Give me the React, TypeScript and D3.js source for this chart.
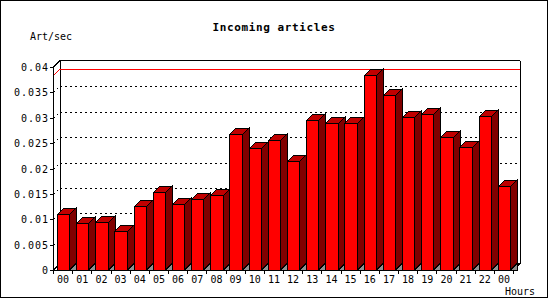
import React from "react";
import * as d3 from "d3";

const hours = ["00","01","02","03","04","05","06","07","08","09","10","11","12","13","14","15","16","17","18","19","20","21","22","00"];
const artPerSec = [0.0110,0.0092,0.0094,0.0077,0.01255,0.0153,0.0131,0.0139,0.0148,0.0267,0.0240,0.0256,0.0215,0.0296,0.0289,0.0289,0.0384,0.0345,0.0301,0.0307,0.0263,0.0242,0.0303,0.0166];
const yTicks = [0,0.005,0.01,0.015,0.02,0.025,0.03,0.035,0.04];
const yTickLabels = ["0","0.005","0.01","0.015","0.02","0.025","0.03","0.035","0.04"];

const W = 550, H = 300;
const X0 = 53.5, X1 = 513.5, Y0 = 270, Y1 = 67;
const DX = 6.5, DY = 6.5;
const FONT = "'DejaVu Sans Mono', monospace";

export default function App() {
  const x = d3.scaleBand<number>().domain(d3.range(hours.length)).range([X0, X1]).padding(0);
  const y = d3.scaleLinear().domain([0, 0.04]).range([Y0, Y1]);
  const bw = x.bandwidth() * 0.65;
  const maxV = d3.max(artPerSec) as number;
  const ym = Math.round(y(maxV)) + 0.5;
  const pts = (a: number[][]) => a.map((p) => p.join(",")).join(" ");
  const backL = X0 + DX, backR = X1 + DX, backT = Y1 - DY, backB = Y0 - DY;

  return (
    <svg width={W} height={H} style={{ display: "block", position: "absolute", left: 0, top: 0 }} shapeRendering="crispEdges">
      <rect x={0} y={0} width={W} height={H} fill="#ffffff" />
      <rect x={0.5} y={0.5} width={547} height={297} fill="none" stroke="#000" />
      <text x={274} y={31} textAnchor="middle" fontFamily={FONT} fontWeight="bold" fontSize={11} letterSpacing={0.6}>Incoming articles</text>
      <text x={30} y={40} fontFamily={FONT} fontSize={10}>Art/sec</text>
      <text x={505} y={295} fontFamily={FONT} fontSize={10}>Hours</text>

      {/* back plane frame */}
      <line x1={backL} y1={backT} x2={backR} y2={backT} stroke="#000" />
      <line x1={backL} y1={backT} x2={backL} y2={backB} stroke="#000" />
      <line x1={backR} y1={backT} x2={backR} y2={backB} stroke="#000" />
      <line x1={backL} y1={backB} x2={backR} y2={backB} stroke="#000" />
      <line x1={X0} y1={Y1} x2={backL} y2={backT} stroke="#000" />
      <line x1={X0} y1={Y0} x2={backL} y2={backB} stroke="#000" />
      <line x1={X1} y1={Y0} x2={backR} y2={backB} stroke="#000" />

      {/* grid */}
      {yTicks.slice(1, -1).map((t, i) => {
        const yy = Math.round(y(t)) + 0.5;
        return (
          <g key={i}>
            <line x1={X0} y1={yy} x2={backL} y2={yy - DY} stroke="#000" strokeDasharray="2,3" />
            <line x1={backL} y1={yy - DY} x2={backR} y2={yy - DY} stroke="#000" strokeDasharray="2,3" />
          </g>
        );
      })}

      {/* max line */}
      <line x1={X0} y1={ym} x2={backL} y2={ym - DY} stroke="#ff0000" />
      <line x1={backL} y1={ym - DY} x2={backR} y2={ym - DY} stroke="#ff0000" />

      {/* bars */}
      {artPerSec.map((v, i) => {
        const c = (x(i) as number) + x.bandwidth() / 2;
        const xl = Math.round(c - bw / 2) + 0.5;
        const xr = Math.round(c + bw / 2) + 0.5;
        const yt = Math.round(y(v)) + 0.5;
        const yb = Y0;
        return (
          <g key={i} stroke="#000" strokeWidth={1}>
            <polygon points={pts([[xr, yb], [xr + DX, yb - DY], [xr + DX, yb]])} fill="#909090" />
            <polygon points={pts([[xr, yb], [xr, yt], [xr + DX, yt - DY], [xr + DX, yb - DY]])} fill="#800000" />
            <polygon points={pts([[xl, yt], [xl + DX, yt - DY], [xr + DX, yt - DY], [xr, yt]])} fill="#c00000" />
            <rect x={xl} y={yt} width={xr - xl} height={yb - yt} fill="#ff0000" />
          </g>
        );
      })}

      {/* axes */}
      <line x1={X0} y1={Y0} x2={X0} y2={Y1} stroke="#000" />
      <line x1={X0} y1={Y0} x2={X1} y2={Y0} stroke="#000" />
      {yTicks.map((t, i) => {
        const yy = Math.round(y(t)) + 0.5;
        return (
          <g key={i}>
            <line x1={X0 - 4} y1={yy} x2={X0} y2={yy} stroke="#000" />
            <text x={49} y={yy + 3.5} textAnchor="end" fontFamily={FONT} fontSize={10} letterSpacing={1}>{yTickLabels[i]}</text>
          </g>
        );
      })}
      {d3.range(hours.length + 1).map((i) => {
        const xx = Math.round(X0 + i * x.bandwidth() - 0.5) + 0.5;
        return <line key={i} x1={xx} y1={Y0} x2={xx} y2={Y0 + 4} stroke="#000" />;
      })}
      {hours.map((h, i) => (
        <text key={i} x={(x(i) as number) + x.bandwidth() / 2} y={283} textAnchor="middle" fontFamily={FONT} fontSize={10}>{h}</text>
      ))}
    </svg>
  );
}
